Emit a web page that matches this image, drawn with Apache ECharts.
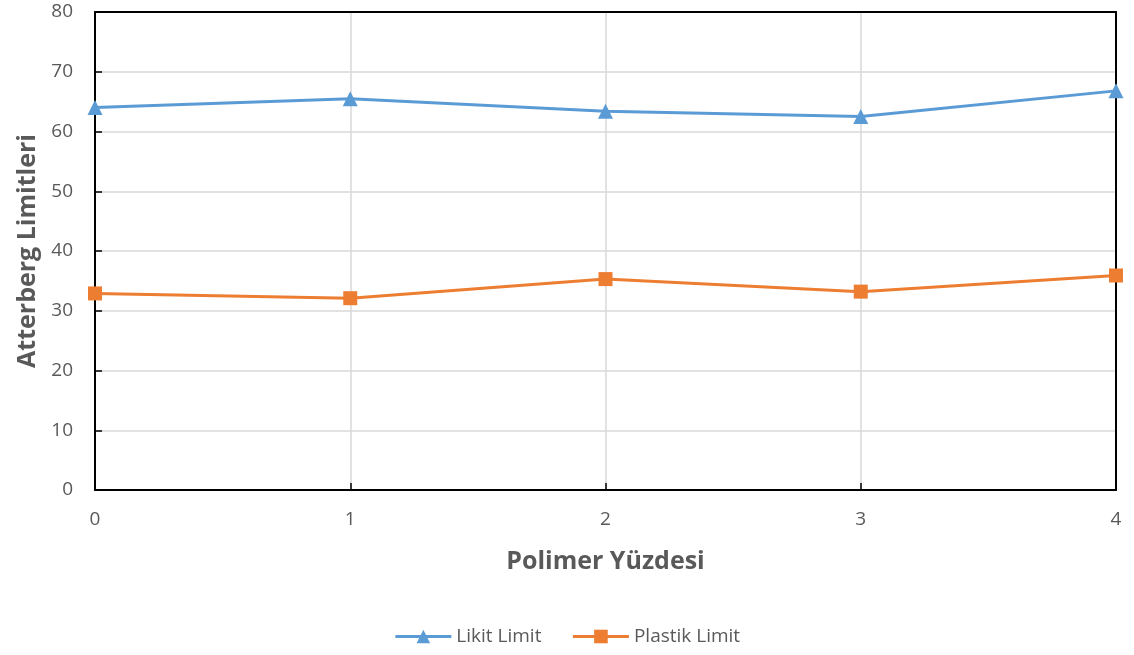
<!DOCTYPE html>
<html>
<head>
<meta charset="utf-8">
<script src="https://cdn.jsdelivr.net/npm/echarts@6/dist/echarts.min.js"></script>
<style>html,body{margin:0;padding:0;background:#fff}#c{width:1134px;height:655px}</style>
</head>
<body>
<div id="c"></div>
<script>
const xValues = [0, 1, 2, 3, 4];
const likitLimit = [64.0, 65.5, 63.4, 62.5, 66.8];
const plastikLimit = [32.9, 32.1, 35.3, 33.2, 35.9];
const seriesNames = ['Likit Limit', 'Plastik Limit'];

const font = '"Open Sans", "DejaVu Sans", sans-serif';
const chart = echarts.init(document.getElementById('c'));
const frameAxis = { show: true, onZero: false, lineStyle: { color: '#000', width: 2 } };
chart.setOption({
  animation: false,
  backgroundColor: '#fff',
  textStyle: { fontFamily: font },
  grid: { left: 95, right: 18, top: 12, bottom: 165 },
  legend: {
    bottom: 4, left: 'center',
    itemWidth: 56, itemHeight: 17, itemGap: 30,
    lineStyle: { width: 3 },
    textStyle: { fontSize: 19, color: '#595959', fontFamily: font },
    data: seriesNames
  },
  xAxis: [{
    type: 'value', min: 0, max: 4, interval: 1,
    name: 'Polimer Yüzdesi', nameLocation: 'middle', nameGap: 59,
    nameTextStyle: { fontSize: 25, fontWeight: 'bold', color: '#595959', fontFamily: font },
    axisLine: frameAxis,
    axisTick: { inside: true, length: 7, lineStyle: { color: '#000', width: 1.5 } },
    axisLabel: { fontSize: 19, color: '#595959', margin: 20 },
    splitLine: { show: true, lineStyle: { color: '#d9d9d9', width: 1.5 } }
  }, {
    type: 'value', min: 0, max: 4, interval: 1, position: 'top', z: 5,
    axisLine: frameAxis, axisTick: { show: false }, axisLabel: { show: false }, splitLine: { show: false }
  }],
  yAxis: [{
    type: 'value', min: 0, max: 80, interval: 10,
    name: 'Atterberg Limitleri', nameLocation: 'middle', nameGap: 50,
    nameTextStyle: { fontSize: 25, fontWeight: 'bold', color: '#595959', fontFamily: font },
    axisLine: frameAxis,
    axisTick: { show: true, inside: true, length: 7, lineStyle: { color: '#000', width: 1.5 } },
    axisLabel: { fontSize: 19, color: '#595959', margin: 22 },
    splitLine: { show: true, lineStyle: { color: '#d9d9d9', width: 1.5 } }
  }, {
    type: 'value', min: 0, max: 80, interval: 10, position: 'right', z: 5,
    axisLine: frameAxis, axisTick: { show: false }, axisLabel: { show: false }, splitLine: { show: false }
  }],
  series: [
    {
      name: seriesNames[0], type: 'line', z: 10,
      data: xValues.map((x, i) => [x, likitLimit[i]]),
      symbol: 'triangle', symbolSize: 15,
      lineStyle: { color: '#5B9BD5', width: 3 },
      itemStyle: { color: '#5B9BD5' }
    },
    {
      name: seriesNames[1], type: 'line', z: 10,
      data: xValues.map((x, i) => [x, plastikLimit[i]]),
      symbol: 'rect', symbolSize: 14,
      lineStyle: { color: '#ED7D31', width: 3 },
      itemStyle: { color: '#ED7D31' }
    }
  ]
});
</script>
</body>
</html>
